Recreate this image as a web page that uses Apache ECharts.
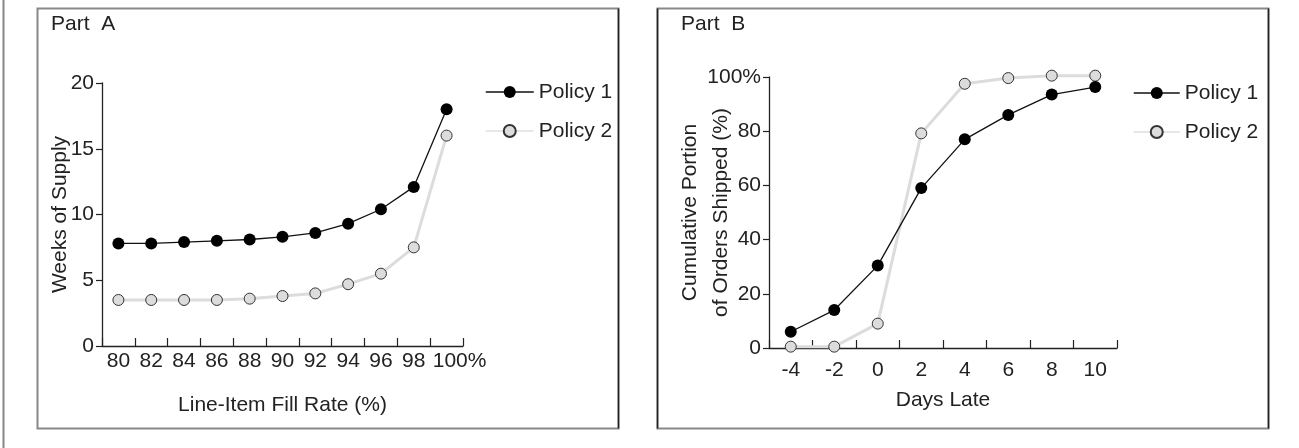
<!DOCTYPE html>
<html>
<head>
<meta charset="utf-8">
<script src="https://cdn.jsdelivr.net/npm/echarts@6/dist/echarts.min.js"></script>
<style>
  html, body { margin: 0; padding: 0; background: #fff; }
  #chart { width: 1299px; height: 448px; }
</style>
</head>
<body>
<div id="chart"></div>
<script>
// ---- Data ----
const fillRateCats = ['80', '82', '84', '86', '88', '90', '92', '94', '96', '98', '100%'];
const weeksPolicy1 = [7.8, 7.8, 7.9, 8.0, 8.1, 8.3, 8.6, 9.3, 10.4, 12.1, 18.0];
const weeksPolicy2 = [3.5, 3.5, 3.5, 3.5, 3.6, 3.8, 4.0, 4.7, 5.5, 7.5, 16.0];

const daysLateCats = ['-4', '-2', '0', '2', '4', '6', '8', '10'];
const shippedPolicy1 = [6, 14, 30.4, 59, 77, 86, 93.5, 96.3];
const shippedPolicy2 = [0.5, 0.5, 9, 79.2, 97.5, 99.6, 100.5, 100.5];

const weeksTicks = { min: 0, max: 20, interval: 5 };
const shippedTicks = { min: 0, max: 100, interval: 20 };

// ---- Styling ----
const FONT = "'Liberation Sans', Arial, Helvetica, sans-serif";
const TXT = '#222';
const FS = 21;

const chart = echarts.init(document.getElementById('chart'), null, { renderer: 'canvas' });

function xAxisCfg(gridIndex, cats, nameText, nameGap, labelMargin, fmt, rich) {
  return {
    type: 'category', gridIndex, data: cats, boundaryGap: true,
    name: nameText, nameLocation: 'middle', nameGap, nameMoveOverlap: false,
    nameTextStyle: { fontFamily: FONT, fontSize: FS, color: TXT, lineHeight: 22 },
    axisLine: { show: true, lineStyle: { color: TXT, width: 1.3 } },
    axisTick: { show: true, inside: true, length: 8, alignWithLabel: false, lineStyle: { color: TXT, width: 1.2 } },
    axisLabel: { fontFamily: FONT, fontSize: FS, color: TXT, margin: labelMargin, interval: 0,
      hideOverlap: false, formatter: fmt, rich: rich },
    splitLine: { show: false }
  };
}
function yAxisCfg(gridIndex, ticks, nameText, nameGap, fmt, lineHeight) {
  return {
    type: 'value', gridIndex, min: ticks.min, max: ticks.max, interval: ticks.interval,
    name: nameText, nameLocation: 'middle', nameGap, nameMoveOverlap: false,
    nameTextStyle: { fontFamily: FONT, fontSize: FS, color: TXT, lineHeight: lineHeight },
    axisLine: { show: true, lineStyle: { color: TXT, width: 1.3 } },
    axisTick: { show: true, inside: false, length: 6, lineStyle: { color: TXT, width: 1.2 } },
    axisLabel: { fontFamily: FONT, fontSize: FS, color: TXT, margin: 8, formatter: fmt },
    splitLine: { show: false }
  };
}

const p1Style = {
  type: 'line', symbol: 'circle', symbolSize: 12, clip: false, z: 3,
  lineStyle: { color: '#111', width: 1.3 },
  itemStyle: { color: '#000', borderColor: '#000', borderWidth: 0 }
};
const p2Style = {
  type: 'line', symbol: 'circle', symbolSize: 11, clip: false, z: 2,
  lineStyle: { color: '#dcdcdc', width: 3 },
  itemStyle: { color: '#dcdcdc', borderColor: '#333', borderWidth: 1 }
};

function legendCfg(left, top, itemWidth) {
  return {
    orient: 'vertical', left, top, padding: 0, itemWidth, itemHeight: 15, itemGap: 17,
    textStyle: { fontFamily: FONT, fontSize: FS, color: TXT, lineHeight: 22 },
    data: [
      { name: 'Policy 1', lineStyle: { color: '#111', width: 1.5 } },
      { name: 'Policy 2', lineStyle: { color: '#d0d0d0', width: 1 } }
    ],
    selectedMode: false
  };
}

const pctLabelFmt = function (v) { return v === '100%' ? '{pct|' + v + '}' : v; };
const pctRich = { pct: { fontFamily: FONT, fontSize: FS, color: TXT, padding: [0, 0, 0, 26] } };

const option = {
  animation: false,
  backgroundColor: '#fff',
  textStyle: { fontFamily: FONT },
  title: [
    { text: 'Part  A', left: 51, top: 14, padding: 0,
      textStyle: { fontFamily: FONT, fontSize: FS, fontWeight: 'normal', color: TXT } },
    { text: 'Part  B', left: 681, top: 14, padding: 0,
      textStyle: { fontFamily: FONT, fontSize: FS, fontWeight: 'normal', color: TXT } }
  ],
  grid: [
    { left: 102, right: 836, top: 83, bottom: 102, containLabel: false },
    { left: 769, right: 182, top: 77, bottom: 100, containLabel: false }
  ],
  legend: [ legendCfg(485, 81, 48), legendCfg(1133, 82, 46) ],
  xAxis: [
    xAxisCfg(0, fillRateCats, 'Line-Item Fill Rate (%)', 48, 5, pctLabelFmt, pctRich),
    xAxisCfg(1, daysLateCats, 'Days Late', 41, 12)
  ],
  yAxis: [
    yAxisCfg(0, weeksTicks, 'Weeks of Supply', 31, null, 22),
    yAxisCfg(1, shippedTicks, 'Cumulative Portion\nof Orders Shipped (%)', 32,
      function (v) { return v === 100 ? '100%' : String(v); }, 31)
  ],
  series: [
    Object.assign({ name: 'Policy 2', xAxisIndex: 0, yAxisIndex: 0, data: weeksPolicy2 }, p2Style),
    Object.assign({ name: 'Policy 1', xAxisIndex: 0, yAxisIndex: 0, data: weeksPolicy1 }, p1Style),
    Object.assign({ name: 'Policy 2', xAxisIndex: 1, yAxisIndex: 1, data: shippedPolicy2 }, p2Style),
    Object.assign({ name: 'Policy 1', xAxisIndex: 1, yAxisIndex: 1, data: shippedPolicy1 }, p1Style)
  ],
  graphic: [
    { type: 'line', shape: { x1: 3.5, y1: 0, x2: 3.5, y2: 448 }, style: { stroke: '#888', lineWidth: 2 }, silent: true },
    { type: 'rect', shape: { x: 37.5, y: 8.5, width: 581, height: 420 }, style: { fill: null, stroke: '#888', lineWidth: 2 }, silent: true },
    { type: 'line', shape: { x1: 618.5, y1: 8.5, x2: 618.5, y2: 428.5 }, style: { stroke: '#222', lineWidth: 1.5 }, silent: true },
    { type: 'rect', shape: { x: 657.5, y: 8.5, width: 611, height: 420 }, style: { fill: null, stroke: '#888', lineWidth: 2 }, silent: true },
    { type: 'line', shape: { x1: 657.5, y1: 8.5, x2: 657.5, y2: 428.5 }, style: { stroke: '#222', lineWidth: 1.5 }, silent: true },
    { type: 'line', shape: { x1: 1268.5, y1: 8.5, x2: 1268.5, y2: 428.5 }, style: { stroke: '#222', lineWidth: 1.5 }, silent: true }
  ]
};

chart.setOption(option);
</script>
</body>
</html>
